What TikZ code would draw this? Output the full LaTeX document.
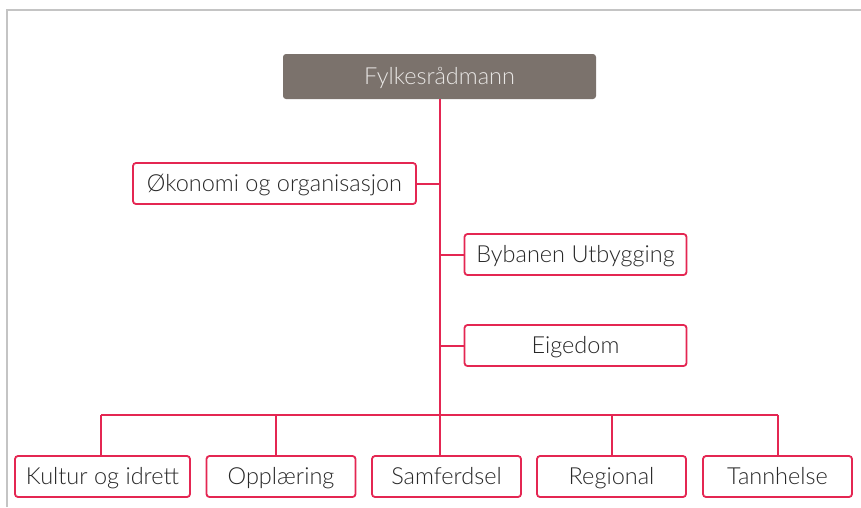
\documentclass[tikz,border=0pt]{standalone}
\usepackage{fontspec}
\setmainfont{Lato}[UprightFont={* Light}]
\definecolor{orgred}{RGB}{228,38,82}
\definecolor{topfill}{RGB}{123,114,108}
\definecolor{toptext}{RGB}{232,230,228}
\definecolor{boxtext}{RGB}{40,40,40}
\definecolor{framegray}{RGB}{196,196,196}
\begin{document}
\begin{tikzpicture}[x=1pt,y=-1pt,
  unitbox/.style={draw=orgred, line width=1.8pt, rounded corners=3pt, fill=white,
    minimum height=41pt, inner sep=0pt, text=boxtext, font=\fontsize{23.5}{26}\selectfont,
    text height=16pt, text depth=0pt},
  headbox/.style={fill=topfill, rounded corners=3pt, minimum width=313pt, minimum height=45pt,
    inner sep=0pt, text=toptext, font=\fontsize{23.5}{26}\selectfont,
    text height=16pt, text depth=0pt},
  link/.style={draw=orgred, line width=2pt}]
\useasboundingbox (0,0) rectangle (861,507);
\draw[framegray, line width=1.8pt] (7,507) -- (7,10) -- (861,10);
\node[headbox] (top) at (439.5,76.5) {Fylkesrådmann};
\node[unitbox, minimum width=283pt] (okon) at (274.5,183.5) {Økonomi og organisasjon};
\node[unitbox, minimum width=222pt] (byb) at (575.5,254.5) {Bybanen Utbygging};
\node[unitbox, minimum width=222pt] (eig) at (575.5,345.5) {Eigedom};
\node[unitbox, minimum width=175pt] (kult) at (102.5,476.5) {Kultur og idrett};
\node[unitbox, minimum width=149pt] (oppl) at (281,476.5) {Opplæring};
\node[unitbox, minimum width=149pt] (samf) at (446.5,476.5) {Samferdsel};
\node[unitbox, minimum width=149pt] (regi) at (611.5,476.5) {Regional};
\node[unitbox, minimum width=149pt] (tann) at (777.5,476.5) {Tannhelse};
\coordinate (bus) at (440,415);
\coordinate (busl) at (101,415);
\coordinate (busr) at (777.5,415);
\coordinate (dOppl) at (276,415);
\coordinate (dRegi) at (611.5,415);
\begin{scope}[on background layer/.try]
\draw[link] (top.south -| bus) -- (samf.north -| bus);
\draw[link] (okon.east) -- (okon.east -| bus);
\draw[link] (byb.west) -- (byb.west -| bus);
\draw[link] (eig.west) -- (eig.west -| bus);
\draw[link] (busl) -- (busr);
\draw[link] (busl) -- (kult.north -| busl);
\draw[link] (dOppl) -- (oppl.north -| dOppl);
\draw[link] (dRegi) -- (regi.north -| dRegi);
\draw[link] (busr) -- (tann.north -| busr);
\end{scope}
\end{tikzpicture}
\end{document}
